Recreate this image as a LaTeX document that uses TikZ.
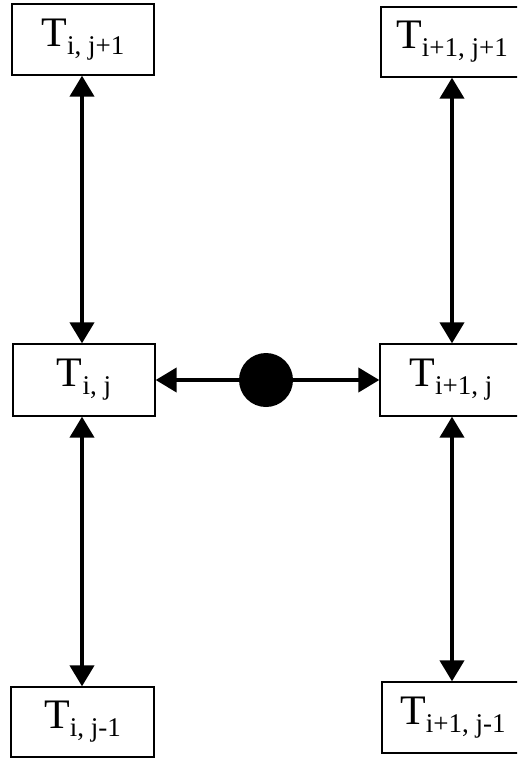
\documentclass[tikz,border=0pt]{standalone}
\usepackage{fontspec}
\setmainfont{Liberation Serif}
\usetikzlibrary{arrows.meta}
\newcommand{\Tlab}[1]{\fontsize{42}{42}\selectfont T\raisebox{-8pt}{\fontsize{27}{27}\selectfont #1}}
\begin{document}
\begin{tikzpicture}[x=1pt,y=-1pt,
  cell/.style={draw,line width=1.3pt,rectangle,inner sep=0pt},
  link/.style={line width=4pt,{Triangle[length=21pt,width=24pt]}-{Triangle[length=21pt,width=24pt]}},
  half/.style={line width=4pt,-{Triangle[length=21pt,width=24pt]}}]
\useasboundingbox (0,0) rectangle (517,758);
\clip (0,0) rectangle (517,758);
\coordinate (lx) at (82,0);
\coordinate (rx) at (452,0);
\node[cell,minimum width=142pt,minimum height=71pt] (tl) at (83,39.5) {\Tlab{i, j+1}};
\node[cell,minimum width=142pt,minimum height=72pt] (ml) at (84,380) {\Tlab{i, j}};
\node[cell,minimum width=143pt,minimum height=70pt] (bl) at (82.5,722) {\Tlab{i, j-1}};
\node[cell,minimum width=150pt,minimum height=70pt] (tr) at (456,42) {\hspace*{-8pt}\Tlab{i+1, j+1}};
\node[cell,minimum width=152pt,minimum height=72pt] (mr) at (456,380) {\hspace*{-10pt}\Tlab{i+1, j}};
\node[cell,minimum width=150pt,minimum height=71pt] (br) at (457,717.5) {\hspace*{-8pt}\Tlab{i+1, j-1}};
\node[circle,fill=black,minimum size=54pt,inner sep=0pt] (c) at (266,380) {};
\draw[link] (tl.south -| lx) -- (ml.north -| lx);
\draw[link] (ml.south -| lx) -- (bl.north -| lx);
\draw[link] (tr.south -| rx) -- (mr.north -| rx);
\draw[link] (mr.south -| rx) -- (br.north -| rx);
\draw[half] (c) -- (ml.east);
\draw[half] (c) -- (mr.west);
\end{tikzpicture}
\end{document}
